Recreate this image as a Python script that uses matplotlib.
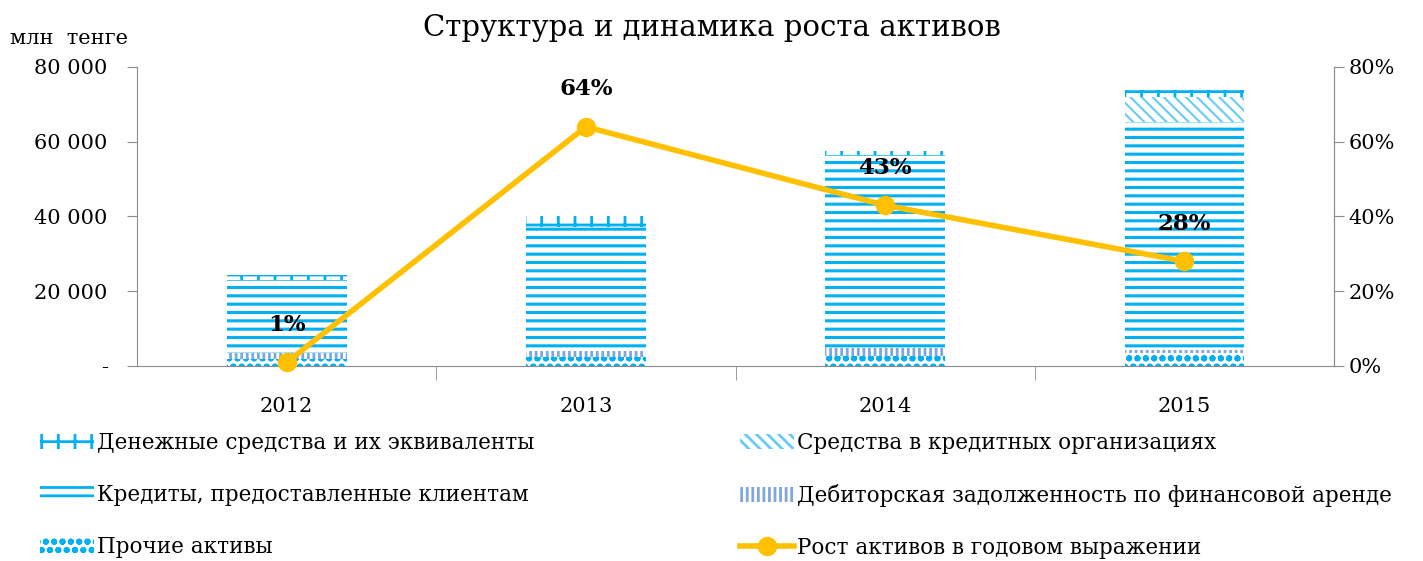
import matplotlib
matplotlib.use("Agg")
import matplotlib.pyplot as plt
from matplotlib.ticker import FuncFormatter, FixedLocator
import numpy as np

plt.rcParams['font.family'] = ['DejaVu Serif']
plt.rcParams['hatch.linewidth'] = 2.0

years = ['2012', '2013', '2014', '2015']
# млн тенге
other = [1800, 2500, 2800, 3600]
receivables = [1600, 1600, 2000, 800]
loans = [19500, 33200, 51600, 61000]
bank_deposits = [0, 0, 0, 6600]
cash = [1400, 2900, 1100, 1900]
growth = [1, 64, 43, 28]  # %

blue = '#00B0F0'
lblue = '#7FA7DC'
gold = '#FFC000'
grey = '#8C8C8C'

fig = plt.figure(figsize=(14.23, 5.61), dpi=100)
ax = fig.add_axes([0.0963, 0.3476, 0.8412, 0.533])
x = np.arange(len(years))
w = 0.4

bottom = np.zeros(len(years))
series = [
    (other, 'Прочие активы', 'oo', blue, 2.0),
    (receivables, 'Дебиторская задолженность по финансовой аренде', '|||', lblue, 2.0),
    (loans, 'Кредиты, предоставленные клиентам', '--', blue, 2.2),
    (bank_deposits, 'Средства в кредитных организациях', '\\\\\\', '#66CCF5', 1.5),
    (cash, 'Денежные средства и их эквиваленты', '+', blue, 2.0),
]
handles = {}
for vals, name, hatch, col, hlw in series:
    with plt.rc_context({'hatch.linewidth': hlw}):
        b = ax.bar(x, vals, w, bottom=bottom, facecolor='white', edgecolor=col,
                   hatch=hatch, linewidth=0, label=name)
    handles[name] = b
    bottom += np.array(vals)

ax.set_xlim(-0.5, 3.5)
ax.set_ylim(0, 80000)
ax.yaxis.set_major_locator(FixedLocator([0, 20000, 40000, 60000, 80000]))
ax.yaxis.set_major_formatter(FuncFormatter(
    lambda v, p: '-' if v == 0 else f'{int(v):,}'.replace(',', ' ')))
ax.set_xticks(x)
ax.set_xticklabels(years)
ax.set_xticks([0.5, 1.5, 2.5], minor=True)
ax.tick_params(axis='x', which='major', length=0, pad=22, labelsize=15)
ax.tick_params(axis='x', which='minor', length=10, color=grey)
ax.tick_params(axis='y', labelsize=15, color=grey, length=7, pad=14)
ax.spines['top'].set_visible(False)
for s in ['left', 'right', 'bottom']:
    ax.spines[s].set_color(grey)

ax2 = ax.twinx()
ax2.set_ylim(0, 80)
ax2.set_yticks([0, 20, 40, 60, 80])
ax2.yaxis.set_major_formatter(FuncFormatter(lambda v, p: f'{int(v)}%'))
ax2.tick_params(axis='y', labelsize=15, color=grey, length=7)
for s in ['top', 'left', 'bottom']:
    ax2.spines[s].set_visible(False)
ax2.spines['right'].set_color(grey)
line, = ax2.plot(x, growth, color=gold, lw=4, marker='o', ms=13,
                 label='Рост активов в годовом выражении', clip_on=False)
for xi, g in zip(x, growth):
    ax2.annotate(f'{g}%', (xi, g), xytext=(0, 19), textcoords='offset points',
                 ha='center', va='bottom', fontsize=16.5, fontweight='bold')

fig.text(0.5, 0.95, 'Структура и динамика роста активов', ha='center',
         va='center', fontsize=21)
fig.text(0.007, 0.932, 'млн  тенге', ha='left', va='center', fontsize=15)

left_h = [handles['Денежные средства и их эквиваленты'],
          handles['Кредиты, предоставленные клиентам'],
          handles['Прочие активы']]
right_h = [handles['Средства в кредитных организациях'],
           handles['Дебиторская задолженность по финансовой аренде'],
           line]
for hs, xa in [(left_h, 0.022), (right_h, 0.514)]:
    fig.legend(hs, [h.get_label() for h in hs], loc='upper left',
               bbox_to_anchor=(xa, 0.245), frameon=False, fontsize=15.5,
               handlelength=2.5, handletextpad=0.15, labelspacing=1.38,
               borderaxespad=0)

fig.savefig('out.png', dpi=100)
